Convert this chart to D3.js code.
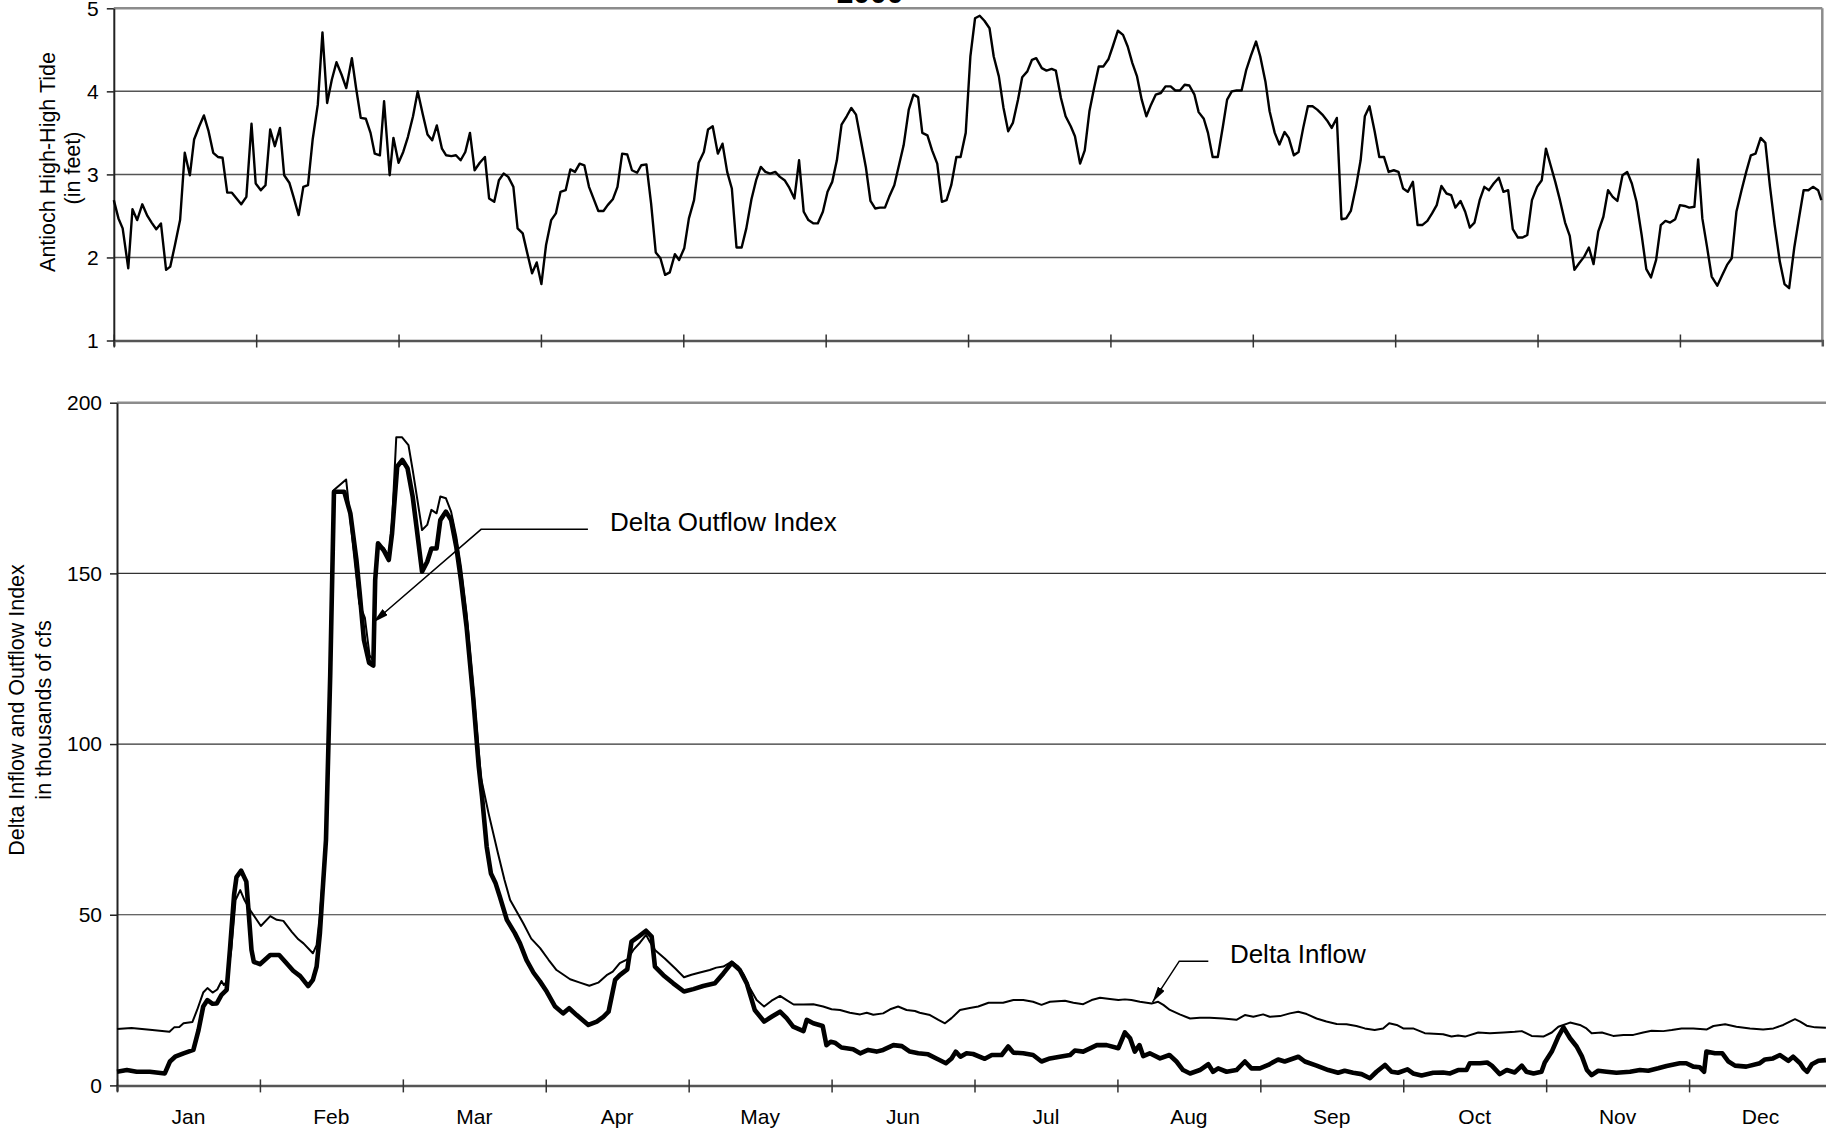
<!DOCTYPE html>
<html>
<head>
<meta charset="utf-8">
<script src="https://d3js.org/d3.v7.min.js"></script>
<style>
  body { margin: 0; background: #fff; }
  svg { display: block; font-family: "Liberation Sans", Arial, sans-serif; }
</style>
</head>
<body>
<div id="chart"></div>
<script>
// month labels for the shared time axis (2000 has 366 days)
var months = ["Jan", "Feb", "Mar", "Apr", "May", "Jun", "Jul", "Aug", "Sep", "Oct", "Nov", "Dec"];
var yearDays = 366;

// Antioch high-high tide, [day of year, feet]
var tide = [
  [0,2.69],[1,2.47],[1.9,2.35],[3.1,1.87],[4,2.58],[5,2.45],[6.1,2.64],[7.2,2.5],[8.1,2.42],[9.1,2.34],
  [10.1,2.41],[11.2,1.85],[12.1,1.89],[13.1,2.15],[14.2,2.45],[15.2,3.26],[16.3,2.99],[17.2,3.42],[18.3,3.58],[19.3,3.71],
  [20.3,3.52],[21.3,3.26],[22.3,3.21],[23.3,3.2],[24.3,2.78],[25.3,2.78],[26.3,2.71],[27.3,2.64],[28.4,2.73],[29.5,3.61],
  [30.4,2.89],[31.5,2.81],[32.5,2.87],[33.5,3.54],[34.5,3.34],[35.6,3.56],[36.5,2.99],[37.6,2.9],[38.5,2.73],[39.6,2.51],
  [40.6,2.85],[41.6,2.87],[42.6,3.42],[43.7,3.84],[44.7,4.71],[45.7,3.86],[46.7,4.14],[47.7,4.35],[48.8,4.2],[49.8,4.04],
  [51,4.4],[51.9,4.04],[52.9,3.68],[54,3.67],[55,3.5],[55.9,3.25],[57,3.23],[57.9,3.88],[59.1,2.99],[59.9,3.44],
  [61,3.14],[62,3.27],[63,3.45],[64.1,3.7],[65.1,4],[66.2,3.72],[67.2,3.48],[68.2,3.41],[69.2,3.59],[70.3,3.31],
  [71.2,3.23],[72.3,3.22],[73.3,3.23],[74.3,3.17],[75.3,3.27],[76.3,3.5],[77.3,3.05],[78.4,3.14],[79.5,3.21],[80.4,2.71],
  [81.5,2.67],[82.5,2.93],[83.5,3.01],[84.5,2.97],[85.6,2.85],[86.5,2.35],[87.6,2.29],[88.5,2.07],[89.6,1.81],[90.6,1.94],
  [91.6,1.68],[92.6,2.15],[93.7,2.45],[94.7,2.53],[95.7,2.79],[96.8,2.81],[97.8,3.06],[98.8,3.03],[99.8,3.13],[100.8,3.11],
  [101.8,2.85],[102.9,2.69],[103.8,2.56],[104.9,2.56],[105.8,2.63],[106.9,2.7],[107.9,2.85],[108.9,3.25],[110,3.24],[111,3.05],
  [112.1,3.02],[113,3.11],[114.1,3.12],[115.1,2.65],[116.1,2.06],[117.1,1.99],[118.1,1.79],[119.1,1.82],[120.2,2.04],[121.1,1.97],
  [122.2,2.11],[123.2,2.47],[124.3,2.69],[125.3,3.14],[126.4,3.27],[127.3,3.54],[128.3,3.58],[129.4,3.25],[130.4,3.37],[131.4,3.03],
  [132.4,2.83],[133.4,2.12],[134.5,2.12],[135.5,2.35],[136.6,2.7],[137.6,2.93],[138.6,3.09],[139.6,3.03],[140.6,3.01],[141.7,3.03],
  [142.7,2.97],[143.7,2.93],[144.7,2.84],[145.8,2.71],[146.8,3.17],[147.8,2.55],[148.8,2.45],[149.9,2.41],[150.8,2.41],[151.9,2.55],
  [152.9,2.79],[153.9,2.91],[154.9,3.17],[155.9,3.6],[157,3.7],[158,3.8],[159,3.72],[160,3.42],[161.1,3.09],[162.1,2.68],
  [163.1,2.59],[164.1,2.6],[165.2,2.6],[166.1,2.73],[167.2,2.87],[168.2,3.11],[169.2,3.35],[170.3,3.78],[171.3,3.96],[172.3,3.93],
  [173.2,3.5],[174.3,3.47],[175.3,3.29],[176.4,3.13],[177.4,2.67],[178.4,2.69],[179.4,2.87],[180.5,3.21],[181.4,3.21],[182.5,3.5],
  [183.5,4.42],[184.5,4.88],[185.5,4.91],[186.5,4.85],[187.6,4.76],[188.5,4.42],[189.6,4.18],[190.6,3.8],[191.6,3.52],[192.6,3.62],
  [193.7,3.9],[194.6,4.17],[195.7,4.24],[196.7,4.38],[197.6,4.4],[198.8,4.28],[199.8,4.25],[200.9,4.27],[201.8,4.25],[202.9,3.92],
  [203.9,3.7],[205,3.58],[205.9,3.46],[207,3.13],[208,3.29],[209,3.76],[210,4.04],[211,4.3],[212,4.3],[213.1,4.39],
  [214,4.54],[215.1,4.73],[216.2,4.68],[217.2,4.54],[218.2,4.34],[219.2,4.18],[220.2,3.9],[221.2,3.7],[222.2,3.84],[223.2,3.96],
  [224.3,3.98],[225.3,4.06],[226.4,4.06],[227.4,4.01],[228.4,4.01],[229.4,4.08],[230.4,4.07],[231.5,3.96],[232.4,3.75],[233.5,3.67],
  [234.4,3.5],[235.4,3.21],[236.5,3.21],[237.6,3.58],[238.5,3.9],[239.5,4],[240.5,4.01],[241.6,4.01],[242.6,4.26],[243.6,4.43],
  [244.7,4.6],[245.6,4.42],[246.7,4.12],[247.6,3.76],[248.7,3.5],[249.7,3.36],[250.8,3.51],[251.7,3.44],[252.8,3.23],[253.8,3.27],
  [254.8,3.56],[255.8,3.82],[256.8,3.82],[257.8,3.78],[258.9,3.72],[259.9,3.65],[260.9,3.56],[262,3.68],[263,2.46],[264,2.47],
  [265,2.56],[266.1,2.85],[267.1,3.17],[268,3.7],[269,3.82],[270.1,3.52],[271.1,3.21],[272.1,3.21],[273.1,3.03],[274.2,3.05],
  [275.2,3.03],[276.2,2.83],[277.2,2.79],[278.3,2.91],[279.3,2.39],[280.3,2.39],[281.4,2.44],[282.4,2.53],[283.4,2.63],[284.4,2.86],
  [285.5,2.77],[286.5,2.75],[287.4,2.6],[288.5,2.68],[289.5,2.55],[290.5,2.36],[291.5,2.42],[292.6,2.69],[293.6,2.85],[294.6,2.81],
  [295.6,2.89],[296.7,2.96],[297.7,2.79],[298.7,2.81],[299.7,2.34],[300.8,2.24],[301.8,2.24],[302.8,2.27],[303.8,2.69],[304.9,2.85],
  [305.9,2.93],[306.8,3.31],[307.8,3.11],[308.8,2.91],[309.8,2.69],[310.9,2.42],[311.9,2.26],[312.9,1.85],[313.9,1.93],[315,2.01],
  [316,2.12],[317,1.92],[318,2.31],[319.1,2.49],[320.1,2.81],[321.1,2.73],[322.1,2.68],[323.2,2.99],[324.2,3.03],[325.2,2.89],
  [326.2,2.67],[327.3,2.27],[328.3,1.86],[329.3,1.76],[330.4,1.97],[331.4,2.39],[332.4,2.44],[333.4,2.42],[334.5,2.46],[335.5,2.63],
  [336.5,2.62],[337.5,2.6],[338.6,2.61],[339.4,3.18],[340.3,2.47],[341.3,2.13],[342.3,1.77],[343.5,1.66],[344.5,1.78],[345.6,1.91],
  [346.6,1.99],[347.6,2.55],[348.7,2.81],[349.7,3.03],[350.7,3.23],[351.7,3.25],[352.8,3.44],[353.8,3.38],[354.8,2.85],[355.8,2.39],
  [356.9,1.95],[357.9,1.68],[358.9,1.63],[360,2.12],[361,2.47],[362,2.81],[363,2.81],[364,2.85],[365.1,2.81],[365.8,2.69]
];

// Delta Inflow, [day of year, thousand cfs]
var inflow = [
  [0,16.5],[3.1,16.8],[7,16.3],[11.2,15.7],[12.2,17],[13.3,17.1],[14.2,18.2],[16.1,18.6],[17.1,22.1],[18.4,27.2],
  [19.3,28.5],[20.4,27.2],[21.4,28.1],[22.3,30.6],[22.8,29.4],[23.4,30.4],[24.4,40],[25.3,54.3],[26.3,57.2],[27.2,54.3],
  [28.4,51.4],[30.7,46.7],[32.7,49.6],[34.1,48.5],[35.5,48.2],[37.3,45],[38.7,42.8],[39.8,41.6],[41.8,38.7],[42.6,41.1],
  [43.3,50],[44,62],[44.6,74],[45.5,122],[46.3,174.4],[48.9,177.5],[49.8,165.7],[50.7,153.9],[51.7,141.2],[52.9,137],
  [53.9,126],[54.7,124.5],[55.2,148],[55.7,158],[56.9,157.5],[58,155],[58.7,165],[59.6,189.9],[60.8,189.9],[62.2,187.6],
  [63.1,180.3],[64,172.5],[65.1,162.7],[66.2,164.2],[67.1,168.6],[68.2,167.6],[69,172.5],[70.2,172],[71.3,168.1],[72.4,160.8],
  [73.4,152],[74.6,138.3],[76,116.8],[77.7,90],[79.3,79.7],[81.3,68],[82.7,60.2],[83.9,54.3],[86.7,47.5],[88.4,43],
  [90.3,40.2],[92.1,36.8],[93.8,33.8],[96.7,31.1],[98.8,30.1],[100.8,29.2],[102.7,30.1],[104.5,32.3],[105.8,33.3],[107.3,35.8],
  [108.9,36.9],[110.2,39.7],[111.6,41.8],[112.9,44.1],[113.7,42.1],[114.8,39.7],[116.9,37.2],[119.1,34.3],[121,31.7],[122.6,32.4],
  [124.4,33.1],[126.5,33.8],[127.9,34.5],[129.4,34.8],[131.2,36.3],[132.6,34.8],[133.8,32.3],[134.9,28.9],[136.5,25],[138.1,23.1],
  [139.7,24.8],[141.5,26.2],[142.9,25],[144.4,23.7],[146.5,23.7],[148.6,23.8],[150.7,23.1],[152.5,22.3],[154.3,22.1],[156.4,21.3],
  [158.6,20.8],[160,21.3],[161.4,20.7],[163.5,21.1],[165,22.3],[166.7,23.1],[168.5,22.1],[170.3,21.8],[171.3,21.3],[173.5,20.6],
  [175.3,19.2],[176.7,18.2],[178.1,19.7],[179.9,22.1],[182,22.7],[183.8,23.1],[186,24.2],[189.1,24.2],[191.3,25],[193.4,25],
  [195.5,24.5],[197.3,23.6],[199.1,24.5],[202.3,24.8],[204.1,24.2],[206.2,23.8],[208,25],[209.8,25.7],[211.9,25.3],[213.7,25],
  [215.1,25.2],[216.5,25],[218.3,24.5],[220.8,24],[222.2,24.5],[223.3,23.6],[224.7,22.1],[226.8,20.8],[229,19.6],[231.1,19.8],
  [233.2,19.8],[236.1,19.6],[238.9,19.2],[240.7,20.6],[242.5,20.1],[244.6,20.8],[246,20.1],[248.2,20.3],[250.3,21.1],[252.1,21.6],
  [253.9,20.9],[256,19.6],[258.1,18.7],[260.3,18],[262.4,17.9],[264.5,17.4],[266.3,16.7],[268.4,16.2],[270.2,16.7],[271.5,18.2],
  [273.1,17.7],[274.5,16.7],[276.6,16.7],[279.1,15.3],[283,15],[284.8,14.3],[286.2,14.6],[287.7,14.3],[290.5,15.5],[293,15.3],
  [295.9,15.5],[298.3,15.7],[299.8,15.9],[301.9,14.5],[304.4,14.3],[306.2,15.5],[307.6,17.2],[310.1,18.4],[312.2,17.7],[313.6,16.7],
  [314.7,15.3],[316.9,15.5],[319.3,14.5],[321.5,14.8],[323.6,14.8],[325.7,15.5],[327.5,16],[330,15.9],[331.8,16.2],[333.9,16.7],
  [336.4,16.7],[339.3,16.4],[340.7,17.4],[343.2,17.9],[345.6,17.2],[348.5,16.7],[351.3,16.4],[353.5,16.7],[355.6,17.7],[357,18.7],
  [358.1,19.4],[359.2,18.7],[360.6,17.5],[362.4,17],[364.7,16.9]
];

// Delta Outflow Index, [day of year, thousand cfs]
var outflow = [
  [0,4],[2.1,4.5],[4.2,4],[7,4],[10.2,3.5],[11.3,7],[12.4,8.4],[14.2,9.4],[16.3,10.4],[17.4,16.2],
  [18.4,23.1],[19.3,25],[20.4,23.9],[21.3,24],[22.3,26.5],[23.4,28],[24.1,39.7],[25,56],[25.5,61],[26.5,62.9],
  [27.6,59.7],[28.7,39.7],[29.2,36.2],[30.5,35.5],[32.7,38.2],[34.6,38.2],[35.9,36.2],[37.6,33.6],[39.1,32],[40.8,29.1],
  [41.8,30.9],[42.6,34.8],[43.3,44.6],[43.8,55.3],[44.6,71.9],[45.5,120],[46.3,173.9],[48.5,173.9],[49.8,167.6],[51.1,153.9],
  [51.8,144.1],[52.7,130.5],[53.8,123.8],[54.7,123],[55.1,148.1],[55.7,158.8],[56.9,156.8],[58,153.9],[58.7,161.7],[59.8,181.3],
  [60.9,183.2],[62,180.8],[63.1,172.5],[64,162.7],[65.1,150.5],[66.2,153.4],[67.1,157.3],[68.2,157.3],[69,165.6],[70.2,168.1],
  [71.3,165.6],[72.4,157.8],[73.4,148.1],[74.6,134.4],[76,113.9],[77.2,93.4],[77.9,84.6],[78.9,69.9],[79.8,62.1],[80.8,59.2],
  [81.7,55.3],[83.2,48.5],[84.9,44.6],[86,41.6],[87.4,36.7],[88.9,33],[90.3,30.4],[91.7,27.5],[93.5,23.1],[95.2,21.1],
  [96.5,22.6],[98.1,20.6],[100.6,17.7],[102.4,18.7],[103.8,20.1],[104.9,21.6],[106.3,30.9],[107.3,32.3],[108.9,34],[109.8,42.1],
  [111.3,43.6],[112.9,45.3],[114.1,43.6],[114.8,34.8],[116.6,32.3],[118.7,29.9],[121,27.5],[123,28.2],[125.1,29.1],[127.6,29.9],
  [129.4,32.8],[131.2,35.9],[132.9,33.8],[134.4,29.9],[136.1,22.1],[138.1,18.7],[139.7,20.1],[141.5,21.6],[142.9,19.7],[144.3,17.2],
  [146.5,15.9],[147.2,19.2],[148.6,18.2],[150.6,17.4],[151.4,11.8],[152.3,12.8],[153.2,12.5],[154.6,11.1],[157.1,10.6],[158.6,9.4],
  [160.3,10.4],[162.1,9.9],[163.5,10.4],[165.7,11.8],[167.5,11.5],[169.2,9.9],[171,9.4],[173.1,9.1],[175.3,7.6],[176.9,6.5],
  [178.1,7.9],[179,9.9],[180,8.4],[181.3,9.4],[182.7,9.2],[185.2,7.8],[186.7,8.9],[188.8,8.9],[190.2,11.4],[191.3,9.6],
  [193.4,9.4],[195.5,8.9],[197.3,7],[199.1,7.9],[201.2,8.4],[203.4,8.9],[204.4,10.2],[206.2,9.9],[209.1,11.8],[211.2,11.8],
  [213.7,10.9],[215.1,15.5],[216.2,13.8],[217.2,9.9],[218.2,11.8],[219,8.6],[220.4,9.4],[222.6,7.9],[224.6,8.9],[226.1,7],
  [227.5,4.5],[229,3.5],[231.1,4.5],[232.9,6.2],[233.9,4],[235,5],[236.8,4],[238.9,4.5],[240.7,7],[242.1,5],
  [243.9,5],[245.7,6],[247.8,7.6],[249.2,7],[252.1,8.4],[253.5,7],[256,5.8],[258.5,4.5],[260.6,3.7],[262,4.3],
  [263.8,3.7],[265.6,3.3],[267.4,2.1],[268.8,4],[270.6,6],[272,4],[273.4,3.7],[275.4,4.7],[276.6,3.5],[278.4,2.9],
  [280.9,3.7],[283,3.8],[284.5,3.5],[286.2,4.5],[288,4.5],[288.7,6.5],[290.9,6.5],[292.4,6.7],[293.4,5.8],[295.1,3.3],
  [296.6,4.5],[298.3,3.8],[299.8,5.8],[300.8,4],[302.3,3.5],[304,4],[304.7,6.7],[306.2,9.9],[307.6,14.3],[308.7,17],
  [310.1,13.8],[311.5,11.4],[312.6,8.6],[313.7,4.5],[314.7,3],[316.1,4.3],[317.9,4],[320,3.7],[322.9,4],[325,4.5],
  [326.8,4.3],[328.9,5],[330.7,5.7],[333.5,6.5],[334.9,6.5],[336.4,5.5],[337.8,5.3],[338.7,4],[339.2,9.9],[341,9.4],
  [342.6,9.4],[343.9,7],[345.3,5.8],[347.7,5.5],[350.6,6.5],[351.7,7.6],[353.4,7.9],[354.9,8.9],[356.7,7.2],[357.7,8.4],
  [359.2,6.5],[359.9,5],[360.7,4],[361.7,6.2],[363.1,7.2],[364.7,7.4]
];

var tideTicks = [1, 2, 3, 4, 5];
var flowTicks = [0, 50, 100, 150, 200];

// annotation anchors in data units: [day, value]
var outflowNote = { text: "Delta Outflow Index", label: [105.2, 162.3], elbow: [77.7, 162.9], end: [100.5, 162.9], tip: [54.65, 135.6] };
var inflowNote = { text: "Delta Inflow", label: [237.5, 35.8], elbow: [226.7, 36.4], end: [232.9, 36.4], tip: [221.0, 24.4] };

var W = 1826, H = 1131;
var svg = d3.select("#chart").append("svg")
  .attr("width", W)
  .attr("height", H);

var defs = svg.append("defs");
defs.append("marker")
  .attr("id", "arrow")
  .attr("viewBox", "0 0 16 8")
  .attr("refX", 16)
  .attr("refY", 4)
  .attr("markerWidth", 16)
  .attr("markerHeight", 8)
  .attr("markerUnits", "userSpaceOnUse")
  .attr("orient", "auto")
  .append("path")
  .attr("d", "M0,0 L16,4 L0,8 Z")
  .attr("fill", "#000");

var monthStep = yearDays / 12;
var monthEdges = d3.range(0, 13).map(function(i) { return i * monthStep; });
var monthMids = d3.range(0, 12).map(function(i) { return (i + 0.5) * monthStep; });

// ---------- top panel: tide ----------
var xTop = d3.scaleLinear().domain([0, yearDays]).range([113.8, 1822.3]);
var yTop = d3.scaleLinear().domain([1, 5]).range([340.5, 8.3]);

var tidePanel = svg.append("g");

// gridlines
tidePanel.selectAll(".grid")
  .data([2, 3, 4])
  .enter()
  .append("line")
  .attr("x1", xTop(0)).attr("x2", xTop(yearDays))
  .attr("y1", function(d) { return yTop(d); })
  .attr("y2", function(d) { return yTop(d); })
  .attr("stroke", "#555")
  .attr("stroke-width", 1.5);

// plot frame: top and right in grey
tidePanel.append("line")
  .attr("x1", xTop(0)).attr("x2", xTop(yearDays))
  .attr("y1", yTop(5)).attr("y2", yTop(5))
  .attr("stroke", "#8c8c8c").attr("stroke-width", 2.5);
tidePanel.append("line")
  .attr("x1", xTop(yearDays)).attr("x2", xTop(yearDays))
  .attr("y1", yTop(5)).attr("y2", yTop(1))
  .attr("stroke", "#8c8c8c").attr("stroke-width", 2.5);

// x axis with crossing ticks
var topX = tidePanel.append("g")
  .attr("transform", "translate(0," + yTop(1) + ")")
  .call(d3.axisBottom(xTop).tickValues(monthEdges.slice(0, 12)).tickSize(6).tickFormat(""));
topX.select(".domain").attr("stroke", "#555").attr("stroke-width", 2.5);
topX.selectAll(".tick line").attr("y1", -6).attr("y2", 7).attr("stroke", "#333").attr("stroke-width", 1.5);

var topY = tidePanel.append("g")
  .attr("transform", "translate(" + xTop(0) + ",0)")
  .call(d3.axisLeft(yTop).tickValues(tideTicks).tickFormat(d3.format("d")).tickSize(7).tickSizeOuter(0).tickPadding(8));
topY.select(".domain").attr("stroke", "#222").attr("stroke-width", 2);
topY.selectAll(".tick line").attr("stroke", "#222").attr("stroke-width", 1.5);
topY.selectAll(".tick text").style("font-size", "21px").attr("fill", "#000");

var tideLine = d3.line()
  .x(function(d) { return xTop(d[0]); })
  .y(function(d) { return yTop(d[1]); });

tidePanel.append("path")
  .datum(tide)
  .attr("d", tideLine)
  .attr("fill", "none")
  .attr("stroke", "#000")
  .attr("stroke-width", 2.4)
  .attr("stroke-linejoin", "round");

tidePanel.append("text")
  .attr("transform", "translate(55,162) rotate(-90)")
  .attr("text-anchor", "middle")
  .style("font-size", "21.5px")
  .text("Antioch High-High Tide");
tidePanel.append("text")
  .attr("transform", "translate(80,168) rotate(-90)")
  .attr("text-anchor", "middle")
  .style("font-size", "21.5px")
  .text("(in feet)");

// title, mostly cut off at the top edge as in the source
svg.append("text")
  .attr("x", 870)
  .attr("y", 3)
  .attr("text-anchor", "middle")
  .style("font-size", "30px")
  .style("font-weight", "bold")
  .text("2000");

// ---------- bottom panel: flows ----------
var xBot = d3.scaleLinear().domain([0, yearDays]).range([117, 1832]);
var yBot = d3.scaleLinear().domain([0, 200]).range([1085.4, 402.7]);

var flowPanel = svg.append("g");

flowPanel.selectAll(".grid")
  .data([50, 100, 150])
  .enter()
  .append("line")
  .attr("x1", xBot(0)).attr("x2", xBot(yearDays))
  .attr("y1", function(d) { return yBot(d); })
  .attr("y2", function(d) { return yBot(d); })
  .attr("stroke", "#333")
  .attr("stroke-width", 1.2);

flowPanel.append("line")
  .attr("x1", xBot(0)).attr("x2", xBot(yearDays))
  .attr("y1", yBot(200)).attr("y2", yBot(200))
  .attr("stroke", "#8c8c8c").attr("stroke-width", 2.5);

var botX = flowPanel.append("g")
  .attr("transform", "translate(0," + yBot(0) + ")")
  .call(d3.axisBottom(xBot).tickValues(monthEdges).tickSize(6).tickFormat(""));
botX.select(".domain").attr("stroke", "#555").attr("stroke-width", 2.5);
botX.selectAll(".tick line").attr("y1", -6).attr("y2", 7).attr("stroke", "#333").attr("stroke-width", 1.5);

// month names centred in each month
flowPanel.append("g")
  .selectAll("text")
  .data(months)
  .enter()
  .append("text")
  .attr("x", function(d, i) { return xBot(monthMids[i]); })
  .attr("y", 1124)
  .attr("text-anchor", "middle")
  .style("font-size", "21px")
  .text(function(d) { return d; });

var botY = flowPanel.append("g")
  .attr("transform", "translate(" + xBot(0) + ",0)")
  .call(d3.axisLeft(yBot).tickValues(flowTicks).tickSize(7).tickSizeOuter(0).tickPadding(8));
botY.select(".domain").attr("stroke", "#222").attr("stroke-width", 2);
botY.selectAll(".tick line").attr("stroke", "#222").attr("stroke-width", 1.5);
botY.selectAll(".tick text").style("font-size", "21px").attr("fill", "#000");

var flowLine = d3.line()
  .x(function(d) { return xBot(d[0]); })
  .y(function(d) { return yBot(d[1]); });

flowPanel.append("path")
  .datum(inflow)
  .attr("d", flowLine)
  .attr("fill", "none")
  .attr("stroke", "#000")
  .attr("stroke-width", 2)
  .attr("stroke-linejoin", "round");

flowPanel.append("path")
  .datum(outflow)
  .attr("d", flowLine)
  .attr("fill", "none")
  .attr("stroke", "#000")
  .attr("stroke-width", 4.6)
  .attr("stroke-linejoin", "round");

flowPanel.append("text")
  .attr("transform", "translate(24,710) rotate(-90)")
  .attr("text-anchor", "middle")
  .style("font-size", "21.5px")
  .text("Delta Inflow and Outflow Index");
flowPanel.append("text")
  .attr("transform", "translate(51,710) rotate(-90)")
  .attr("text-anchor", "middle")
  .style("font-size", "21.5px")
  .text("in thousands of cfs");

// leader lines with arrows
[outflowNote, inflowNote].forEach(function(n) {
  flowPanel.append("path")
    .attr("d", "M" + xBot(n.end[0]) + "," + yBot(n.end[1]) +
               "L" + xBot(n.elbow[0]) + "," + yBot(n.elbow[1]) +
               "L" + xBot(n.tip[0]) + "," + yBot(n.tip[1]))
    .attr("fill", "none")
    .attr("stroke", "#000")
    .attr("stroke-width", 1.5)
    .attr("marker-end", "url(#arrow)");
  flowPanel.append("text")
    .attr("x", xBot(n.label[0]))
    .attr("y", yBot(n.label[1]))
    .style("font-size", "26px")
    .text(n.text);
});
</script>
</body>
</html>
